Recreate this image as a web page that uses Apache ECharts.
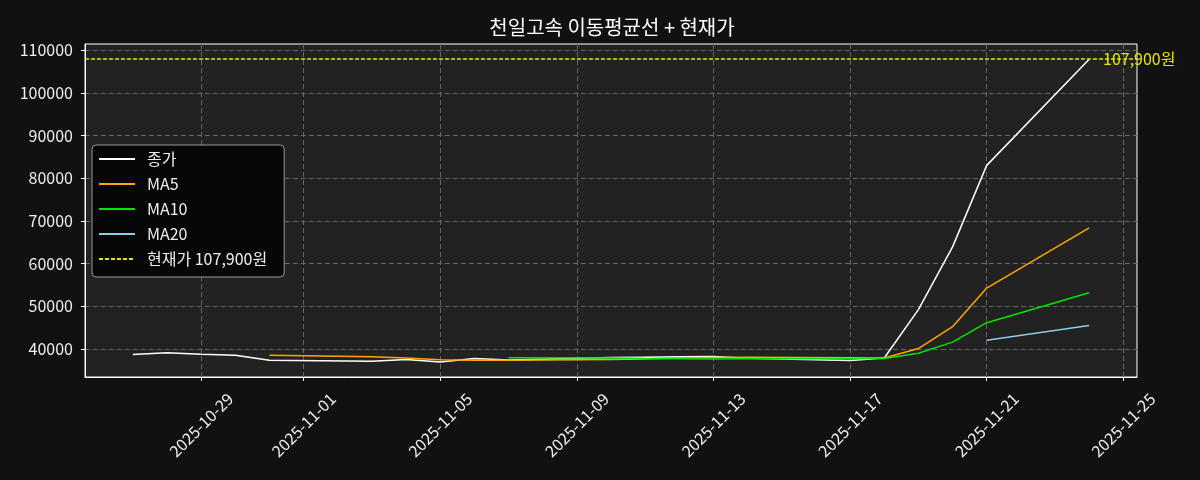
<!DOCTYPE html>
<html>
<head>
<meta charset="utf-8">
<script src="https://cdn.jsdelivr.net/npm/echarts@6/dist/echarts.min.js"></script>
<style>
  html, body { margin: 0; padding: 0; background: #111111; }
  #chart { width: 1200px; height: 480px; }
</style>
</head>
<body>
<div id="chart"></div>
<script>
// trading days
const dates = ['2025-10-27', '2025-10-28', '2025-10-29', '2025-10-30', '2025-10-31',
  '2025-11-03', '2025-11-04', '2025-11-05', '2025-11-06', '2025-11-07',
  '2025-11-10', '2025-11-11', '2025-11-12', '2025-11-13', '2025-11-14',
  '2025-11-17', '2025-11-18', '2025-11-19', '2025-11-20', '2025-11-21', '2025-11-24']
const closes = [38650, 39100, 38750, 38500, 37350, 37100, 37500, 36900, 37750, 37400,
  37950, 38050, 38150, 38200, 37800, 37250, 37850, 49200, 63900, 83000, 107900]
const ma5 = [null, null, null, null, 38470, 38160, 37840, 37470, 37320, 37330,
  37500, 37610, 37860, 37950, 38030, 37890, 37850, 40060, 45200, 54240, 68370]
const ma10 = [null, null, null, null, null, null, null, null, null, 37900,
  37830, 37725, 37665, 37635, 37680, 37695, 37730, 38960, 41575, 46135, 53130]
const ma20 = [null, null, null, null, null, null, null, null, null, null,
  null, null, null, null, null, null, null, null, null, 42018, 45480]
const currentPrice = 107900
const xTickLabels = ['2025-10-29', '2025-11-01', '2025-11-05', '2025-11-09', '2025-11-13', '2025-11-17', '2025-11-21', '2025-11-25']
const yTicks = [40000, 50000, 60000, 70000, 80000, 90000, 100000, 110000]

// x axis works in days (UTC) so dates map to plain numbers
const DAY = 86400000
function toDay (s) {
  const p = s.split(/[- :]/).map(Number)
  return Date.UTC(p[0], p[1] - 1, p[2], p[3] || 0, p[4] || 0) / DAY
}
function dayLabel (v) {
  const d = new Date(Math.round(v) * DAY)
  const mm = String(d.getUTCMonth() + 1).padStart(2, '0')
  const dd = String(d.getUTCDate()).padStart(2, '0')
  return d.getUTCFullYear() + '-' + mm + '-' + dd
}
function pairs (arr) {
  return dates.map((d, i) => [toDay(d), arr[i]])
}

const font = "'Noto Sans CJK KR', 'Noto Sans', sans-serif"
const chart = echarts.init(document.getElementById('chart'))
const option = {
  backgroundColor: '#111111',
  animation: false,
  textStyle: { fontFamily: font },
  title: {
    text: '천일고속 이동평균선 + 현재가',
    left: 607,
    textAlign: 'center',
    top: 12,
    textStyle: { color: '#ffffff', fontSize: 20, fontWeight: 'normal', fontFamily: font }
  },
  grid: {
    left: 85, right: 63, top: 44, bottom: 103,
    show: true,
    backgroundColor: '#222222',
    borderColor: '#ffffff',
    borderWidth: 1
  },
  legend: {
    orient: 'vertical',
    left: 92,
    top: 145,
    itemWidth: 36,
    itemHeight: 14,
    itemGap: 9,
    padding: [6, 17, 10, 6],
    backgroundColor: '#070707',
    borderColor: '#999999',
    borderWidth: 1,
    borderRadius: 4,
    itemStyle: { opacity: 0 },
    lineStyle: { width: 2 },
    textStyle: { color: '#eeeeee', fontSize: 16, lineHeight: 16, fontFamily: font, padding: [0, 0, 0, 7] },
    data: ['종가', 'MA5', 'MA10', 'MA20', '현재가 107,900원']
  },
  xAxis: {
    type: 'value',
    min: toDay('2025-10-25 14:24'),
    max: toDay('2025-11-25 09:36'),
    axisLine: { lineStyle: { color: '#ffffff' } },
    axisTick: { show: true, length: 4, lineStyle: { color: '#ffffff' }, customValues: xTickLabels.map(s => toDay(s)) },
    axisLabel: {
      customValues: xTickLabels.map(s => toDay(s)),
      rotate: 45,
      align: 'center',
      verticalAlign: 'middle',
      margin: 48,
      color: '#eeeeee',
      fontSize: 16,
      fontFamily: font,
      formatter: dayLabel
    },
    splitLine: { show: true, lineStyle: { color: '#666666', type: [5, 3], width: 1 } }
  },
  yAxis: {
    type: 'value',
    min: 33400,
    max: 111450,
    axisLine: { show: true, lineStyle: { color: '#ffffff' } },
    axisTick: { show: true, length: 4, lineStyle: { color: '#ffffff' }, customValues: yTicks },
    axisLabel: {
      customValues: yTicks,
      color: '#eeeeee',
      fontSize: 16,
      margin: 12,
      fontFamily: font,
      formatter: v => String(v)
    },
    splitLine: { show: true, lineStyle: { color: '#666666', type: [5, 3], width: 1 } }
  },
  series: [
    {
      name: '종가', type: 'line', symbol: 'none', data: pairs(closes),
      color: '#ffffff', lineStyle: { color: '#ffffff', width: 1.5 }
    },
    {
      name: 'MA5', type: 'line', symbol: 'none', data: pairs(ma5),
      color: '#ffa500', lineStyle: { color: '#ffa500', width: 1.5 }
    },
    {
      name: 'MA10', type: 'line', symbol: 'none', data: pairs(ma10),
      color: '#00e600', lineStyle: { color: '#00e600', width: 1.5 }
    },
    {
      name: 'MA20', type: 'line', symbol: 'none', data: pairs(ma20),
      color: '#87ceeb', lineStyle: { color: '#87ceeb', width: 1.5 }
    },
    {
      name: '현재가 107,900원', type: 'line', symbol: 'none', data: [],
      color: '#e6e600', lineStyle: { color: '#e6e600', width: 1.5, type: [4, 2] },
      markLine: {
        silent: true,
        symbol: ['none', 'none'],
        lineStyle: { color: '#e6e600', width: 1.5, type: [4, 2] },
        label: {
          show: true,
          position: 'end',
          distance: -34,
          color: '#e6e600',
          fontSize: 16,
          fontFamily: font,
          formatter: '107,900원'
        },
        data: [{ yAxis: currentPrice }]
      }
    }
  ]
}
chart.setOption(option)
</script>
</body>
</html>
